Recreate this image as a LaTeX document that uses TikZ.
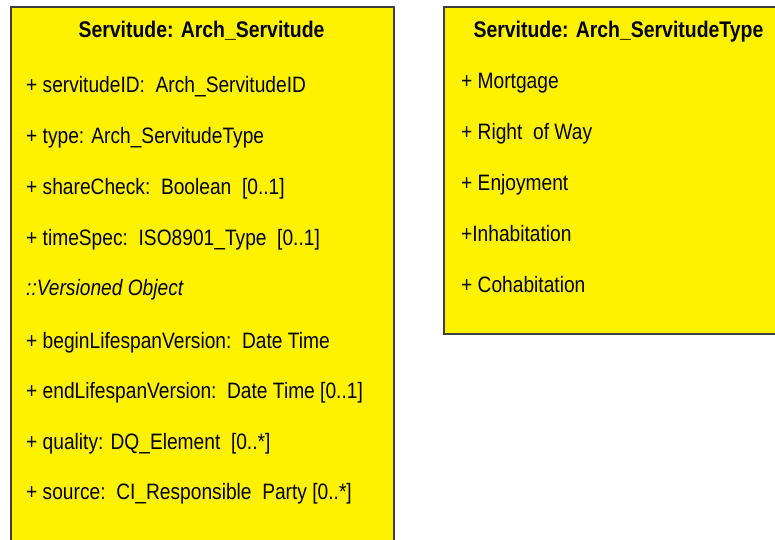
\documentclass[tikz,border=0pt]{standalone}
\usepackage{fontspec}
\setmainfont[FakeStretch=0.86]{Liberation Sans}
\begin{document}
\begin{tikzpicture}[x=1pt,y=1pt,
  umlbox/.style={draw=black!75,line width=1.5pt,fill=yellow,inner sep=0pt,anchor=north west},
  ttl/.style={font=\fontsize{22.6}{26}\selectfont\bfseries,inner sep=0pt,anchor=base},
  attr/.style={font=\fontsize{22.3}{26}\selectfont,inner sep=0pt,anchor=base west}]
\useasboundingbox (0,0) rectangle (775,-539);
\clip (0,0) rectangle (775,-539);
\node[umlbox,minimum width=383pt,minimum height=545pt] (L) at (10,-6) {};
\node[umlbox,minimum width=345pt,minimum height=327pt] (R) at (443,-6) {};
\node[ttl] (Lt) at (201.5,-37) {Servitude: Arch\_Servitude};
\node[attr] (a1) at (26,-92.5) {+ servitudeID:\ \ Arch\_ServitudeID};
\node[attr] (a2) at (26,-143) {+ type: Arch\_ServitudeType};
\node[attr] (a3) at (26,-194) {+ shareCheck:\ \ Boolean\ \ [0..1]};
\node[attr] (a4) at (26,-245) {+ timeSpec:\ \ ISO8901\_Type\ \ [0..1]};
\node[attr] (a5) at (26,-295) {\itshape ::Versioned Object};
\node[attr] (a6) at (26,-348) {+ beginLifespanVersion:\ \ Date Time};
\node[attr] (a7) at (26,-398) {+ endLifespanVersion:\ \ Date Time [0..1]};
\node[attr] (a8) at (26,-449) {+ quality: DQ\_Element\ \ [0..*]};
\node[attr] (a9) at (26,-499) {+ source:\ \ CI\_Responsible\ \ Party [0..*]};
\node[ttl] (Rt) at (618.5,-37) {Servitude: Arch\_ServitudeType};
\node[attr] (b1) at (461,-88) {+ Mortgage};
\node[attr] (b2) at (461,-139) {+ Right\ \ of Way};
\node[attr] (b3) at (461,-190) {+ Enjoyment};
\node[attr] (b4) at (461,-241) {+Inhabitation};
\node[attr] (b5) at (461,-292) {+ Cohabitation};
\end{tikzpicture}
\end{document}
